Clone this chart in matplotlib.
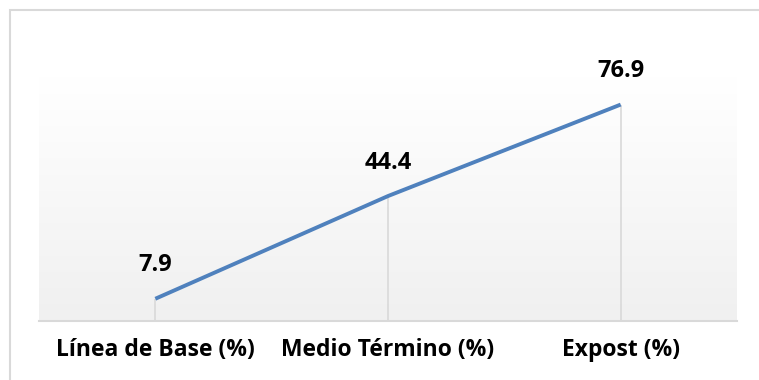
import matplotlib
matplotlib.use("Agg")
import matplotlib.pyplot as plt
import numpy as np
from matplotlib.patches import Rectangle

categories = ["Línea de Base (%)", "Medio Término (%)", "Expost (%)"]
values = [7.9, 44.4, 76.9]

LINE_COLOR = "#4f81bd"
GRID_COLOR = "#d9d9d9"

plt.rcParams["font.family"] = ["Open Sans", "DejaVu Sans"]

W, H = 759, 380
fig = plt.figure(figsize=(W / 100, H / 100), dpi=100)

# outer chart border (only top/left visible)
fig.patches.append(Rectangle((10 / W, -0.5), 2.0, (H - 10) / H + 0.5,
                             transform=fig.transFigure, fill=False,
                             edgecolor=GRID_COLOR, linewidth=1.5))

left, right, top, bottom = 39, 737, 77, 321
ax = fig.add_axes([left / W, 1 - bottom / H, (right - left) / W, (bottom - top) / H])

# vertical gradient background, white at top to light gray at bottom
grad = np.linspace(1.0, 0.0, 256).reshape(-1, 1)
ax.imshow(grad, extent=[0, 1, 0, 1], transform=ax.transAxes, aspect="auto",
          cmap=matplotlib.colors.LinearSegmentedColormap.from_list("bg", ["#f0f0f0", "#ffffff"]),
          zorder=0)

x = np.arange(len(categories))
ax.set_xlim(-0.5, len(categories) - 0.5)
ax.set_ylim(0, 86.7)

# drop lines
ax.vlines(x, 0, values, color=GRID_COLOR, linewidth=1.2, zorder=1)
ax.plot(x, values, color=LINE_COLOR, linewidth=2.8, solid_capstyle="butt", zorder=3)

for xi, v in zip(x, values):
    ax.annotate(f"{v:.1f}", (xi, v), xytext=(0, 24), textcoords="offset points",
                ha="center", va="center", fontsize=17, fontweight="bold", color="black")

ax.set_xticks(x)
ax.set_xticklabels(categories, fontsize=16.5, fontweight="bold")
ax.tick_params(axis="x", length=0, pad=12)
ax.set_yticks([])
for s in ["top", "right", "left"]:
    ax.spines[s].set_visible(False)
ax.spines["bottom"].set_color(GRID_COLOR)
ax.spines["bottom"].set_linewidth(1.5)

fig.savefig("out.png", dpi=100)
